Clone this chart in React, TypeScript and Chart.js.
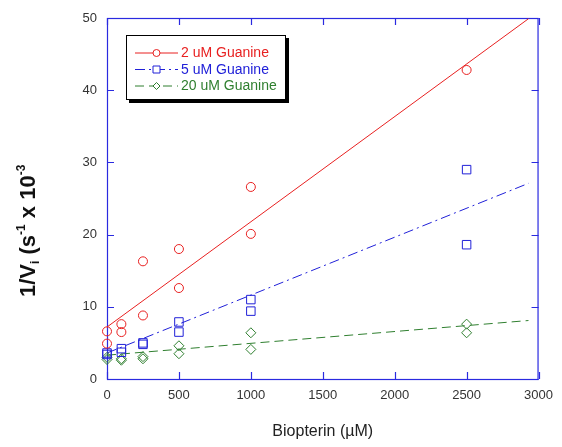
import React, { useEffect, useRef } from "react";
import { Chart, registerables } from "chart.js";

Chart.register(...registerables);

// ---- data ----
const biopterinUM = [0, 0, 100, 100, 250, 250, 500, 500, 1000, 1000, 2500, 2500];
const guanine2uM = [6.6, 4.9, 7.6, 6.5, 16.3, 8.8, 18.0, 12.6, 26.6, 20.1, 42.8, null];
const guanine5uM = [3.6, 3.4, 4.2, 3.7, 5.0, 4.8, 7.9, 6.5, 11.0, 9.4, 29.0, 18.6];
const guanine20uM = [3.0, 2.7, 2.8, 2.6, 3.1, 2.8, 4.6, 3.5, 6.4, 4.1, 7.6, 6.4];

const fitX = [0, 2930];
const fit2uM = [7.2, 49.9];
const fit5uM = [3.6, 27.1];
const fit20uM = [3.3, 8.1];

const xTickValues = [0, 500, 1000, 1500, 2000, 2500, 3000];
const yTickValues = [0, 10, 20, 30, 40, 50];

const seriesLabels = ["2 uM Guanine", "5 uM Guanine", "20 uM Guanine"];
const xAxisTitle = "Biopterin (\u00B5M)";
const yTitleParts: [string, "big" | "sub" | "sup"][] = [
  ["1/V", "big"],
  ["i", "sub"],
  [" (s", "big"],
  ["-1", "sup"],
  [" x 10", "big"],
  ["-3", "sup"],
];

// ---- styles ----
const FONT = "'Liberation Sans', Arial, Helvetica, sans-serif";
const RED = "#e82020";
const BLUE = "#2020d8";
const GREEN = "#2f7f2f";
const AXIS = "#2a2ae0";
const colors = [RED, BLUE, GREEN];
const dashes = [[], [10, 4, 2, 4], [9, 5]];
const pointStyles = ["circle", "rect", "rectRot"];

function pts(xs: number[], ys: (number | null)[]) {
  return xs.map((x, i) => ({ x, y: ys[i] }));
}

const framePlugin = {
  id: "frame",
  beforeDatasetsDraw(chart: any) {
    const { ctx, chartArea: a, scales } = chart;
    ctx.save();
    ctx.strokeStyle = AXIS;
    ctx.lineWidth = 1.2;
    ctx.strokeRect(a.left + 0.5, a.top + 0.5, a.right - a.left - 1, a.bottom - a.top);
    const L = 7;
    ctx.beginPath();
    for (const v of xTickValues) {
      const px = Math.round(scales.x.getPixelForValue(v)) + 0.5;
      ctx.moveTo(px, a.bottom);
      ctx.lineTo(px, a.bottom - L);
      ctx.moveTo(px, a.top);
      ctx.lineTo(px, a.top + L);
    }
    for (const v of yTickValues) {
      const py = Math.round(scales.y.getPixelForValue(v)) + 0.5;
      ctx.moveTo(a.left, py);
      ctx.lineTo(a.left + L, py);
      ctx.moveTo(a.right, py);
      ctx.lineTo(a.right - L, py);
    }
    ctx.stroke();
    ctx.restore();
  },
};

function drawMarker(ctx: CanvasRenderingContext2D, style: string, x: number, y: number, r: number) {
  ctx.beginPath();
  if (style === "circle") {
    ctx.arc(x, y, r, 0, Math.PI * 2);
  } else if (style === "rect") {
    ctx.rect(x - r, y - r, 2 * r, 2 * r);
  } else {
    ctx.moveTo(x, y - r);
    ctx.lineTo(x + r, y);
    ctx.lineTo(x, y + r);
    ctx.lineTo(x - r, y);
    ctx.closePath();
  }
  ctx.fillStyle = "#fff";
  ctx.fill();
  ctx.stroke();
}

const legendPlugin = {
  id: "boxLegend",
  afterDraw(chart: any) {
    const ctx = chart.ctx as CanvasRenderingContext2D;
    const bx = 126, by = 35, bw = 160, bh = 65;
    ctx.save();
    ctx.fillStyle = "#000";
    ctx.fillRect(bx + 3, by + 3, bw, bh);
    ctx.fillStyle = "#fff";
    ctx.fillRect(bx, by, bw, bh);
    ctx.strokeStyle = "#000";
    ctx.lineWidth = 1;
    ctx.strokeRect(bx + 0.5, by + 0.5, bw - 1, bh - 1);
    const rows = [52.5, 69, 85.5];
    seriesLabels.forEach((label, i) => {
      const y = rows[i];
      ctx.strokeStyle = colors[i];
      ctx.lineWidth = 1;
      ctx.setLineDash(dashes[i]);
      ctx.beginPath();
      ctx.moveTo(135, y + 0.5);
      ctx.lineTo(178, y + 0.5);
      ctx.stroke();
      ctx.setLineDash([]);
      drawMarker(ctx, pointStyles[i], 156.5, y + 0.5, 3.5);
      ctx.fillStyle = colors[i];
      ctx.font = `14px ${FONT}`;
      ctx.textBaseline = "middle";
      ctx.textAlign = "left";
      ctx.fillText(label, 181, y + 1);
    });
    ctx.restore();
  },
};

const yTitlePlugin = {
  id: "yTitle",
  afterDraw(chart: any) {
    const ctx = chart.ctx as CanvasRenderingContext2D;
    ctx.save();
    ctx.translate(35, 297);
    ctx.rotate(-Math.PI / 2);
    ctx.fillStyle = "#111";
    ctx.textBaseline = "alphabetic";
    ctx.textAlign = "left";
    let x = 0;
    for (const [t, kind] of yTitleParts) {
      ctx.font = kind === "big" ? `bold 22px ${FONT}` : `bold 12px ${FONT}`;
      const dy = kind === "sub" ? 4 : kind === "sup" ? -10 : 0;
      ctx.fillText(t, x, dy);
      x += ctx.measureText(t).width;
    }
    ctx.restore();
  },
};

export default function App() {
  const ref = useRef<HTMLCanvasElement>(null);

  useEffect(() => {
    if (!ref.current) return;
    const scatterCommon = {
      type: "scatter" as const,
      showLine: false,
      borderWidth: 1,
      pointBorderWidth: 1,
      pointBackgroundColor: "rgba(0,0,0,0)",
      clip: false as any,
    };
    const lineCommon = {
      type: "line" as const,
      showLine: true,
      borderWidth: 1,
      pointRadius: 0,
      pointHoverRadius: 0,
      fill: false,
      tension: 0,
      clip: false as any,
    };
    const chart = new Chart(ref.current, {
      type: "scatter",
      data: {
        datasets: [
          { ...scatterCommon, label: seriesLabels[0], data: pts(biopterinUM, guanine2uM), borderColor: RED, pointBorderColor: RED, pointStyle: "circle", pointRadius: 4.5 },
          { ...scatterCommon, label: seriesLabels[1], data: pts(biopterinUM, guanine5uM), borderColor: BLUE, pointBorderColor: BLUE, pointStyle: "rect", pointRadius: 6 },
          { ...scatterCommon, label: seriesLabels[2], data: pts(biopterinUM, guanine20uM), borderColor: GREEN, pointBorderColor: GREEN, pointStyle: "rectRot", pointRadius: 5 },
          { ...lineCommon, label: "fit 2", data: pts(fitX, fit2uM), borderColor: RED },
          { ...lineCommon, label: "fit 5", data: pts(fitX, fit5uM), borderColor: BLUE, borderDash: dashes[1] },
          { ...lineCommon, label: "fit 20", data: pts(fitX, fit20uM), borderColor: GREEN, borderDash: dashes[2] },
        ] as any,
      },
      options: {
        animation: false,
        responsive: false,
        events: [],
        layout: { padding: { top: 18, right: 23, left: 0, bottom: 0 } },
        plugins: { legend: { display: false }, tooltip: { enabled: false }, title: { display: false } },
        scales: {
          x: {
            type: "linear",
            min: 0,
            max: 3000,
            afterBuildTicks: (s: any) => {
              s.ticks = xTickValues.map((v) => ({ value: v }));
            },
            afterFit: (s: any) => {
              s.height = 68;
            },
            grid: { display: false, drawTicks: false },
            border: { display: false },
            ticks: { padding: 9, color: "#333", font: { family: FONT, size: 13 }, maxRotation: 0, callback: (v: any) => String(v) },
            title: { display: true, text: xAxisTitle, color: "#222", font: { family: FONT, size: 16 }, padding: { top: 4, bottom: 6 } },
          },
          y: {
            type: "linear",
            min: 0,
            max: 50,
            afterBuildTicks: (s: any) => {
              s.ticks = yTickValues.map((v) => ({ value: v }));
            },
            afterFit: (s: any) => {
              s.width = 107;
            },
            grid: { display: false, drawTicks: false },
            border: { display: false },
            ticks: { padding: 10, color: "#333", font: { family: FONT, size: 13 }, callback: (v: any) => String(v) },
          },
        },
      },
      plugins: [framePlugin, legendPlugin, yTitlePlugin],
    });
    return () => chart.destroy();
  }, []);

  return (
    <div style={{ position: "absolute", left: 0, top: 0, width: 562, height: 447, background: "#fff" }}>
      <canvas ref={ref} width={562} height={447} style={{ display: "block" }} />
    </div>
  );
}
